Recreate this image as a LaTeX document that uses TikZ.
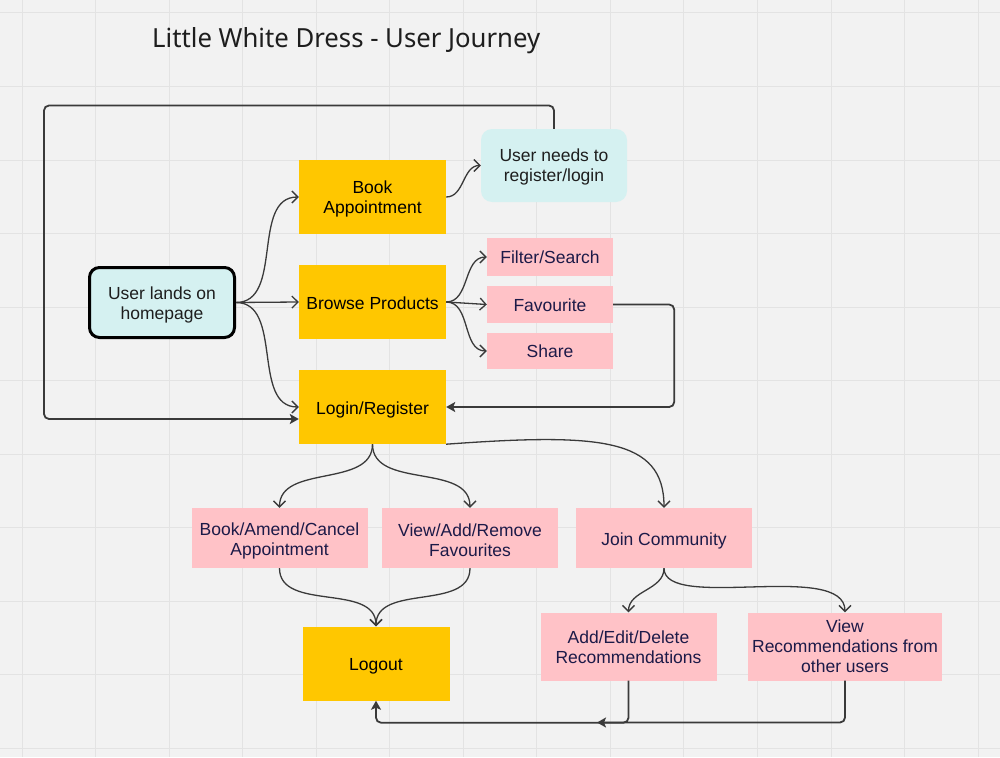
\documentclass[tikz,border=0pt]{standalone}
\usepackage{fontspec}
\setmainfont{Liberation Sans}
\newfontfamily\titlefont{Noto Sans}
\usetikzlibrary{arrows.meta}
\definecolor{bgc}{HTML}{F2F2F2}
\definecolor{gridc}{HTML}{E3E3E3}
\definecolor{ylw}{HTML}{FFC700}
\definecolor{pnk}{HTML}{FFC2C7}
\definecolor{cyn}{HTML}{D5F1F1}
\definecolor{lc}{HTML}{3A3A3A}
\definecolor{navy}{HTML}{1C1A48}
\definecolor{dark}{HTML}{1E1E1E}
\tikzset{
  boxtext/.style={font=\fontsize{17.5}{20}\selectfont, align=center, inner sep=0pt},
  ytext/.style={boxtext, text=black},
  ptext/.style={boxtext, text=navy},
  ctext/.style={boxtext, text=dark},
  ybox/.style={rectangle, inner sep=0pt, fill=ylw, minimum width=147pt, minimum height=74pt},
  pbox/.style={rectangle, inner sep=0pt, fill=pnk, minimum width=176pt, minimum height=60pt},
  sbox/.style={rectangle, inner sep=0pt, fill=pnk, minimum width=126pt, minimum height=37pt},
  cbox/.style={rectangle, inner sep=0pt, rounded corners=11pt, fill=cyn},
  curved/.style={draw=lc, line width=1.3pt, -{Straight Barb[length=6pt,width=12pt,line width=1.3pt]}},
  ortho/.style={draw=lc, line width=1.8pt, rounded corners=5pt, -{Stealth[length=9pt,width=10pt,inset=2pt]}}
}
\begin{document}
\begin{tikzpicture}[x=1pt,y=-1pt]
\useasboundingbox (0,0) rectangle (1000,757);
\fill[bgc] (0,0) rectangle (1000,757);
\foreach \i in {0,...,13} \draw[gridc, line width=1pt] ({22+73.55*\i},0) -- ({22+73.55*\i},757);
\foreach \j in {0,...,10} \draw[gridc, line width=1pt] (0,{13+73.5*\j}) -- (1000,{13+73.5*\j});

\node[anchor=base west, inner sep=0pt, text=dark] (title) at (152,47.3) {\resizebox{388pt}{20pt}{\titlefont Little White Dress - User Journey}};

\node[cbox, draw=black, line width=3pt, rounded corners=10pt, minimum width=145pt, minimum height=70pt,
  label={[ctext,yshift=-2pt]center:{User lands on\\homepage}}] (home) at (162,302.5) {};
\node[cbox, minimum width=146pt, minimum height=73pt,
  label={[ctext,yshift=-1.5pt]center:{User needs to\\register/login}}] (needs) at (554,165.5) {};

\node[ybox, label={[ytext,yshift=-2pt]center:{Book\\Appointment}}] (book) at (372.5,197) {};
\node[ybox, label={[ytext,yshift=-1pt]center:{Browse Products}}] (browse) at (372.5,302) {};
\node[ybox, label={[ytext,yshift=-2.5pt]center:{Login/Register}}] (login) at (372.5,407) {};
\node[ybox, label={[ytext,yshift=-3pt]center:{Logout}}] (logout) at (376,663.5) {};

\node[sbox, minimum height=38pt, label={[ptext]center:{Filter/Search}}] (filter) at (550,257) {};
\node[sbox, label={[ptext,yshift=-1pt]center:{Favourite}}] (fav) at (550,304.5) {};
\node[sbox, minimum height=36pt, label={[ptext,yshift=-0.5pt]center:{Share}}] (share) at (550,351) {};

\node[pbox, label={[ptext,yshift=-3pt]center:{Book/Amend/Cancel\\Appointment}}] (bac) at (279.5,538) {};
\node[pbox, label={[ptext,yshift=-2pt]center:{View/Add/Remove\\Favourites}}] (var) at (470,538) {};
\node[pbox, label={[ptext,yshift=-3pt]center:{Join Community}}] (join) at (664,538) {};

\node[pbox, minimum height=68pt, label={[ptext,yshift=-1pt]center:{Add/Edit/Delete\\Recommendations}}] (aed) at (628.5,646.5) {};
\node[pbox, minimum width=194pt, minimum height=68pt, label={[ptext]center:{View\\Recommendations from\\other users}}] (vrec) at (845,646.5) {};

% curved connectors
\draw[curved] (home.east) to[out=0,in=180] (book.west);
\draw[curved] (home.east) -- (browse.west);
\draw[curved] (home.east) to[out=0,in=180] (login.west);
\draw[curved] (book.east) to[out=0,in=180] (needs.west);
\draw[curved] (browse.east) to[out=0,in=180] (filter.west);
\draw[curved] (browse.east) -- (fav.west);
\draw[curved] (browse.east) to[out=0,in=180] (share.west);
\draw[curved] (login.south) to[out=-90,in=90] (bac.north);
\draw[curved] (login.south) to[out=-90,in=90] (var.north);
\draw[curved] (login.south east) .. controls (600,433) and (664,438) .. (join.north);
\draw[curved] (bac.south) to[out=-90,in=90] (logout.north);
\draw[curved] (var.south) to[out=-90,in=90] (logout.north);
\draw[curved] (join.south) to[out=-90,in=90] (aed.north);
\draw[curved] (join.south) .. controls (664,612) and (845,560) .. (vrec.north);

% orthogonal connectors
\coordinate (loopin) at ([yshift=-12pt]login.west);
\draw[ortho] (needs.north) |- (44,105.5) |- (loopin);
\draw[ortho] (fav.east) -- ++(61,0) |- (login.east);
\coordinate (below) at ([yshift=-22pt]logout.south);
\draw[ortho] (aed.south) |- (below) -- (logout.south);
\coordinate (vmerge) at (597,722.5);
\draw[ortho] (vrec.south) |- (vmerge);
\end{tikzpicture}
\end{document}
